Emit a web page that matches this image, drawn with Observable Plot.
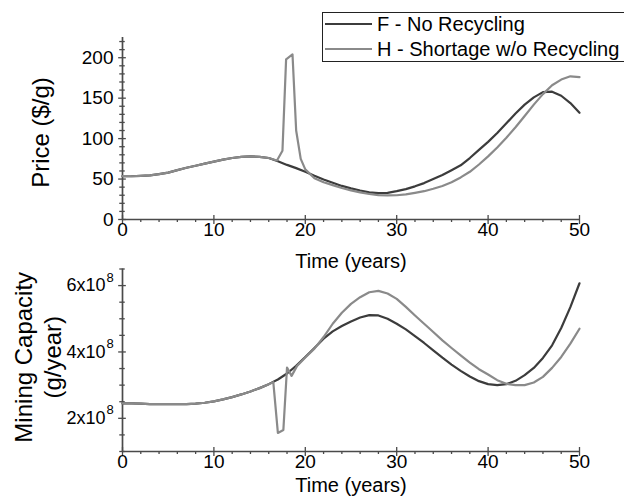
<!DOCTYPE html>
<html>
<head>
<meta charset="utf-8">
<script src="https://cdn.jsdelivr.net/npm/d3@7"></script>
<script src="https://cdn.jsdelivr.net/npm/@observablehq/plot@0.6"></script>
<style>
  body { margin: 0; background: #fff; }
  #wrap { position: relative; width: 624px; height: 504px; overflow: hidden; background: #fff;
          font-family: "Liberation Sans", Arial, sans-serif; }
  #top, #bottom { position: absolute; left: 0; }
  #top { top: 0; }
  #bottom { top: 250px; }
  #legend { position: absolute; left: 322px; top: 12px; width: 400px; height: 48px;
            border: 1px solid #222; background: #fff; }
  #legend .row { position: absolute; left: 2px; height: 25px; display: flex; align-items: center;
                 font-size: 20px; color: #000; white-space: nowrap; }
  #legend .sw { display: inline-block; width: 47px; height: 2.6px; margin-right: 5px; }
</style>
</head>
<body>
<div id="wrap">
  <div id="bottom"></div>
  <div id="top"></div>
  <div id="legend"></div>
</div>
<script>
// ---------------- data ----------------
const seriesNames = ["F - No Recycling", "H - Shortage w/o Recycling"];
const seriesColors = ["#3c3c3c", "#8a8a8a"];

const years = [0,1,2,3,4,5,6,7,8,9,10,11,12,13,14,15,16,17,18,19,20,21,22,23,24,25,
  26,27,28,29,30,31,32,33,34,35,36,37,38,39,40,41,42,43,44,45,46,47,48,49,50];

// Price ($/g), scenario F
const priceF = [53.5,53.5,54,54.5,56,58,61,64,66.5,69,71.5,74,76,77.5,78,77.5,76,72,67.5,63.5,
  59,54,49.5,45.5,41.5,38.5,35.8,33.5,32.5,33,35,37.5,41,45,50,55,61,67,76,86,
  96,107,119,131,142,151,157.5,158,153,144,132];

// Price ($/g), scenario H (with shortage spike)
const yearsPriceH = [0,1,2,3,4,5,6,7,8,9,10,11,12,13,14,15,16,16.9,17.5,17.9,18.6,19.0,19.5,
  20,21,22,23,24,25,26,27,28,29,30,31,32,33,34,35,36,37,38,39,40,41,42,43,44,45,46,47,48,49,50];
const priceH = [53.5,53.5,54,54.5,56,58,61,64,66.5,69,71.5,74,76,77.5,78,77.5,76,73,85,198,204,110,75,
  62,51,46,42.5,39,36,33.5,31.5,30.2,29.8,30,31,33,35,38,41.5,46,52,59,68,78,89,101,114,128,142,155,166,173,177,176];

// Mining capacity (g/year), scenario F
const capF = [2.45e8,2.45e8,2.44e8,2.43e8,2.43e8,2.43e8,2.43e8,2.43e8,2.44e8,2.47e8,2.51e8,2.57e8,2.64e8,
  2.72e8,2.81e8,2.91e8,3.03e8,3.17e8,3.35e8,3.58e8,3.85e8,4.12e8,4.40e8,4.62e8,4.78e8,4.92e8,5.04e8,
  5.11e8,5.10e8,5.00e8,4.85e8,4.68e8,4.48e8,4.27e8,4.05e8,3.83e8,3.62e8,3.43e8,3.26e8,3.12e8,3.03e8,
  3.00e8,3.03e8,3.13e8,3.30e8,3.52e8,3.82e8,4.20e8,4.72e8,5.35e8,6.07e8];

// Mining capacity (g/year), scenario H
const yearsCapH = [0,1,2,3,4,5,6,7,8,9,10,11,12,13,14,15,16,16.5,17.0,17.6,18.0,18.5,19.1,
  20,21,22,23,24,25,26,27,28,29,30,31,32,33,34,35,36,37,38,39,40,41,42,43,44,45,46,47,48,49,50];
const capH = [2.45e8,2.45e8,2.44e8,2.43e8,2.43e8,2.43e8,2.43e8,2.43e8,2.44e8,2.47e8,2.51e8,2.57e8,2.64e8,
  2.72e8,2.81e8,2.91e8,3.03e8,3.09e8,1.56e8,1.65e8,3.53e8,3.28e8,3.58e8,
  3.83e8,4.10e8,4.45e8,4.85e8,5.18e8,5.45e8,5.65e8,5.80e8,5.84e8,5.76e8,5.60e8,5.36e8,5.10e8,4.85e8,
  4.60e8,4.35e8,4.12e8,3.90e8,3.68e8,3.48e8,3.32e8,3.15e8,3.04e8,3.00e8,3.00e8,3.08e8,3.25e8,3.52e8,
  3.85e8,4.25e8,4.70e8];

// ticks & labels
const xMajor = [0,10,20,30,40,50];
const xMinor = [2,4,6,8,12,14,16,18,22,24,26,28,32,34,36,38,42,44,46,48];
const priceMajor = [0,50,100,150,200];
const priceMinor = [10,20,30,40,60,70,80,90,110,120,130,140,160,170,180,190,210,220];
const capMajor = [2e8,4e8,6e8];
const capMajorLabels = ["2x10","4x10","6x10"];
const capExponent = "8";
const capMinor = [1e8,1.5e8,2.5e8,3e8,3.5e8,4.5e8,5e8,5.5e8,6.5e8];
const xLabel = "Time (years)";
const priceLabel = "Price ($/g)";
const capLabel = "Mining Capacity\n(g/year)";

// ---------------- drawing ----------------
const font = "'Liberation Sans', Arial, Helvetica, sans-serif";
const axisColor = "#4a4a4a";
const lw = 2.2;

const pF = years.map((t, i) => ({t, v: priceF[i]}));
const pH = yearsPriceH.map((t, i) => ({t, v: priceH[i]}));
const cF = years.map((t, i) => ({t, v: capF[i]}));
const cH = yearsCapH.map((t, i) => ({t, v: capH[i]}));

const common = {
  width: 624,
  marginLeft: 122,
  marginRight: 45,
  style: {background: "transparent", fontFamily: font, overflow: "visible", color: "#000"}
};

const topPlot = Plot.plot({
  ...common,
  height: 280,
  marginTop: 37,
  marginBottom: 61,
  x: {domain: [0, 50], axis: null},
  y: {domain: [0, 225], axis: null},
  marks: [
    Plot.ruleX(xMinor, {x: d => d, y1: 0, y2: -3.7, stroke: axisColor, strokeWidth: 1.3}),
    Plot.ruleX(xMajor, {x: d => d, y1: 4.9, y2: -6.2, stroke: axisColor, strokeWidth: 1.3}),
    Plot.ruleY(priceMinor, {y: d => d, x1: -0.3, x2: 0.3, stroke: axisColor, strokeWidth: 1.3}),
    Plot.ruleY(priceMajor, {y: d => d, x1: -0.42, x2: 0.42, stroke: axisColor, strokeWidth: 1.3}),
    Plot.ruleY([0], {stroke: axisColor, strokeWidth: 1.7}),
    Plot.ruleX([0], {stroke: axisColor, strokeWidth: 1.7}),
    Plot.line(pF, {x: "t", y: "v", stroke: seriesColors[0], strokeWidth: lw}),
    Plot.line(pH, {x: "t", y: "v", stroke: seriesColors[1], strokeWidth: lw}),
    Plot.text(xMajor, {x: d => d, frameAnchor: "bottom", dy: 16, text: d => String(d), fontSize: 19, fill: "#000"}),
    Plot.text(priceMajor, {y: d => d, frameAnchor: "left", dx: -9, textAnchor: "end", text: d => String(d), fontSize: 19, fill: "#000"}),
    Plot.text([xLabel], {frameAnchor: "bottom", dy: 48, text: d => d, fontSize: 20, fill: "#000"}),
    Plot.text([priceLabel], {frameAnchor: "left", dx: -81, dy: 4, rotate: -90, textAnchor: "middle", text: d => d, fontSize: 24, fill: "#000"})
  ]
});

const botPlot = Plot.plot({
  ...common,
  height: 254,
  marginTop: 18.5,
  marginBottom: 53,
  x: {domain: [0, 50], axis: null},
  y: {domain: [1e8, 6.5e8], axis: null},
  marks: [
    Plot.ruleX(xMinor, {x: d => d, y1: 1e8, y2: 1e8 - 0.09e8, stroke: axisColor, strokeWidth: 1.3}),
    Plot.ruleX(xMajor, {x: d => d, y1: 1e8 + 0.12e8, y2: 1e8 - 0.15e8, stroke: axisColor, strokeWidth: 1.3}),
    Plot.ruleY(capMinor, {y: d => d, x1: -0.3, x2: 0.3, stroke: axisColor, strokeWidth: 1.3}),
    Plot.ruleY(capMajor, {y: d => d, x1: -0.42, x2: 0.42, stroke: axisColor, strokeWidth: 1.3}),
    Plot.ruleY([1e8], {stroke: axisColor, strokeWidth: 1.7}),
    Plot.ruleX([0], {stroke: axisColor, strokeWidth: 1.7}),
    Plot.line(cF, {x: "t", y: "v", stroke: seriesColors[0], strokeWidth: lw}),
    Plot.line(cH, {x: "t", y: "v", stroke: seriesColors[1], strokeWidth: lw}),
    Plot.text(xMajor, {x: d => d, frameAnchor: "bottom", dy: 16, text: d => String(d), fontSize: 19, fill: "#000"}),
    Plot.text(capMajor, {y: d => d, frameAnchor: "left", dx: -17, textAnchor: "end", text: (d, i) => capMajorLabels[i], fontSize: 18, fill: "#000"}),
    Plot.text(capMajor, {y: d => d, frameAnchor: "left", dx: -16, dy: -8, textAnchor: "start", text: () => capExponent, fontSize: 13, fill: "#000"}),
    Plot.text([xLabel], {frameAnchor: "bottom", dy: 40, text: d => d, fontSize: 20, fill: "#000"}),
    Plot.text([capLabel], {frameAnchor: "left", dx: -85.5, dy: -3, rotate: -90, textAnchor: "middle", lineHeight: 1.2, text: d => d, fontSize: 24, fill: "#000"})
  ]
});

document.getElementById("top").appendChild(topPlot);
document.getElementById("bottom").appendChild(botPlot);

// legend
const legend = document.getElementById("legend");
seriesNames.forEach((name, i) => {
  const row = document.createElement("div");
  row.className = "row";
  row.style.top = (i * 25 - 1.5) + "px";
  const sw = document.createElement("span");
  sw.className = "sw";
  sw.style.background = seriesColors[i];
  const tx = document.createElement("span");
  tx.textContent = name;
  row.appendChild(sw);
  row.appendChild(tx);
  legend.appendChild(row);
});
</script>
</body>
</html>
